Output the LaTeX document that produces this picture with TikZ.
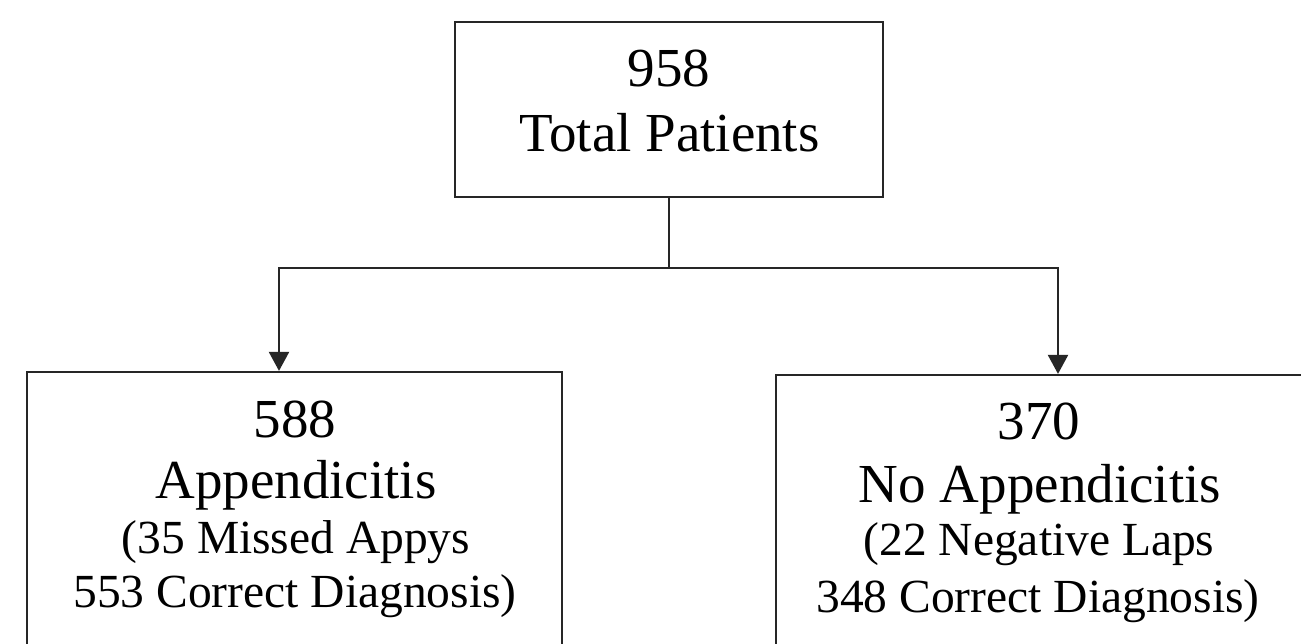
\documentclass[tikz,border=0pt]{standalone}
\usepackage{fontspec}
\setmainfont{Liberation Serif}
\usetikzlibrary{arrows.meta}
\tikzset{
  box/.style={draw=black!85, line width=2.2pt, inner sep=0pt, fill=none},
  big/.style={anchor=base, inner sep=0pt, font=\fontsize{55}{66}\selectfont},
  small/.style={anchor=base, inner sep=0pt, font=\fontsize{47.5}{57}\selectfont},
  conn/.style={draw=black!85, line width=2.2pt},
  arr/.style={conn, -{Triangle[width=20pt,length=19pt]}}
}
\begin{document}
\begin{tikzpicture}[x=1pt,y=-1pt]
\useasboundingbox (0,0) rectangle (1301,644);
\clip (0,0) rectangle (1301,644);
\fill[white] (0,0) rectangle (1301,644);
% boxes
\node[box, minimum width=428pt, minimum height=175pt] (top) at (669,109.5) {};
\node[box, minimum width=535pt, minimum height=348pt] (left) at (294.5,546) {};
\node[box, minimum width=564pt, minimum height=345pt] (right) at (1058,547.5) {};
% texts
\node[big] (t1) at (669,87) {958};
\node[big] (t2) at (669.5,152) {Total Patients};
\node[big] (l1) at (295,437) {588};
\node[big] (l2) at (296,498) {Appendicitis};
\node[small] (l3) at (296,553) {(35 Missed Appys};
\node[small] (l4) at (295,607) {553 Correct Diagnosis)};
\node[big] (r1) at (1039,439) {370};
\node[big] (r2) at (1040,502) {No Appendicitis};
\node[small] (r3) at (1039,555) {(22 Negative Laps};
\node[small] (r4) at (1038,612) {348 Correct Diagnosis)};
% connectors
\coordinate (split) at (669,268);
\draw[conn] (top.south) -- (split);
\draw[arr] (split) -| ([xshift=-15.5pt]left.north);
\draw[arr] (split) -| ([xshift=0pt]right.north);
\end{tikzpicture}
\end{document}
